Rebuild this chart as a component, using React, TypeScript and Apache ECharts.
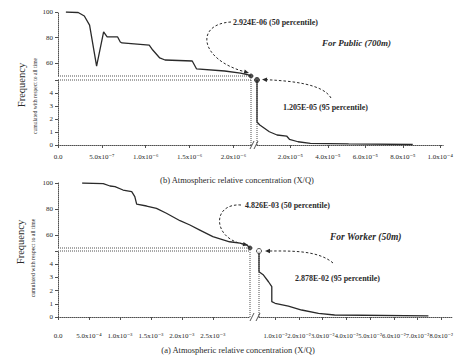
import React, { useEffect, useRef } from "react";
import * as echarts from "echarts";

// ---------- (b) For Public (700m) ----------
const publicUpper: [number, number][] = [
  [0.09e-6, 100], [0.23e-6, 99.6], [0.3e-6, 96.9], [0.36e-6, 89.8], [0.44e-6, 57.8],
  [0.52e-6, 84.4], [0.56e-6, 80.5], [0.68e-6, 80.5], [0.71e-6, 76.6], [0.73e-6, 75.8],
  [1.04e-6, 74.2], [1.08e-6, 70.3], [1.16e-6, 64.1], [1.22e-6, 62.5], [1.53e-6, 61.7],
  [1.58e-6, 55.5], [1.9e-6, 53.9], [2.08e-6, 52.3], [2.17e-6, 50.8], [2.2e-6, 50],
];
const publicLower: [number, number][] = [
  [2.2e-6, 5], [2.2e-6, 1.77], [0.37e-5, 1.54], [0.88e-5, 1.02], [1.29e-5, 0.77],
  [1.8e-5, 0.69], [1.95e-5, 0.44], [2.41e-5, 0.25], [3.07e-5, 0.13], [5.11e-5, 0.08],
  [8.53e-5, 0.04],
];
const publicP50: [number, number] = [2.2e-6, 50];
const publicP95: [number, number] = [2.2e-6, 5];
const publicLeftTicks = [0, 5e-7, 1e-6, 1.5e-6, 2e-6];
const publicLeftLabels = ["0.0", "5.0x10⁻⁷", "1.0x10⁻⁶", "1.5x10⁻⁶", "2.0x10⁻⁶"];
const publicRightTicks = [2e-5, 4e-5, 6e-5, 8e-5, 1e-4];
const publicRightLabels = ["2.0x10⁻⁵", "4.0x10⁻⁵", "6.0x10⁻⁵", "8.0x10⁻⁵", "1.0x10⁻⁴"];
const publicRightMax = 1.0156e-4;

// ---------- (a) For Worker (50m) ----------
const workerUpper: [number, number][] = [
  [0.39e-3, 100], [0.73e-3, 99.5], [0.84e-3, 97.7], [0.92e-3, 97.2], [1.05e-3, 94.6],
  [1.19e-3, 93.3], [1.24e-3, 89.5], [1.27e-3, 83.8], [1.43e-3, 82.3], [1.59e-3, 80.5],
  [1.75e-3, 76.7], [1.97e-3, 71.0], [2.13e-3, 67.7], [2.29e-3, 63.8], [2.5e-3, 58.7],
  [2.77e-3, 54.8], [2.94e-3, 53.8], [3.05e-3, 52.3], [3.1e-3, 50],
];
const workerLower: [number, number][] = [
  [3.1e-3, 5], [3.1e-3, 3.43], [0.5e-2, 3.18], [0.71e-2, 2.67], [0.85e-2, 2.3],
  [0.85e-2, 1.16], [0.99e-2, 1.04], [1.55e-2, 0.83], [2.11e-2, 0.53], [2.82e-2, 0.28],
  [3.5e-2, 0.15], [7.46e-2, 0.08],
];
const workerP50: [number, number] = [3.1e-3, 50];
const workerP95: [number, number] = [3.1e-3, 5];
const workerLeftTicks = [0, 5e-4, 1e-3, 1.5e-3, 2e-3, 2.5e-3];
const workerLeftLabels = ["0.0", "5.0x10⁻⁴", "1.0x10⁻³", "1.5x10⁻³", "2.0x10⁻³", "2.5x10⁻³"];
const workerRightTicks = [0.01, 0.02, 0.03, 0.04, 0.05, 0.06, 0.07, 0.08];
const workerRightLabels = ["1.0x10⁻²", "2.0x10⁻²", "3.0x10⁻²", "4.0x10⁻²", "5.0x10⁻²", "6.0x10⁻²", "7.0x10⁻²", "8.0x10⁻²"];
const workerRightMax = 0.0845;

// Frequency axis
const freqUpperTicks = [60, 80, 100];
const freqLowerTicks = [0, 1, 2, 3, 4];
const freqLowerTickMarks = [0, 1, 2, 3, 4, 5];

const FONT = "'Liberation Serif', 'DejaVu Serif', serif";
const INK = "#2a2a2a";
const AXIS = "#505050";

function labeler(ticks: number[], labels: string[]) {
  return (v: number) => {
    for (let i = 0; i < ticks.length; i++) {
      if (Math.abs(ticks[i] - v) <= Math.abs(ticks[i]) * 1e-6 + 1e-15) return labels[i];
    }
    return "";
  };
}

interface Layout {
  left: number; leftWidth: number; rightLeft: number; rightWidth: number;
  upperTop: number; upperHeight: number; lowerTop: number; lowerHeight: number;
  labelMargin: number; leftFont: number; rightFont: number;
}
interface Panel {
  upper: [number, number][]; lower: [number, number][];
  p50: [number, number]; p95: [number, number];
  leftTicks: number[]; leftLabels: string[];
  rightTicks: number[]; rightLabels: string[];
  rightMax: number; openP95: boolean; layout: Layout;
}

const publicPanel: Panel = {
  upper: publicUpper, lower: publicLower, p50: publicP50, p95: publicP95,
  leftTicks: publicLeftTicks, leftLabels: publicLeftLabels,
  rightTicks: publicRightTicks, rightLabels: publicRightLabels,
  rightMax: publicRightMax, openP95: false,
  layout: { left: 58, leftWidth: 193, rightLeft: 257, rightWidth: 195, upperTop: 12, upperHeight: 64, lowerTop: 80, lowerHeight: 65, labelMargin: 8, leftFont: 7, rightFont: 7 },
};
const workerPanel: Panel = {
  upper: workerUpper, lower: workerLower, p50: workerP50, p95: workerP95,
  leftTicks: workerLeftTicks, leftLabels: workerLeftLabels,
  rightTicks: workerRightTicks, rightLabels: workerRightLabels,
  rightMax: workerRightMax, openP95: true,
  layout: { left: 58, leftWidth: 192, rightLeft: 259, rightWidth: 193, upperTop: 183, upperHeight: 65, lowerTop: 251, lowerHeight: 66, labelMargin: 15, leftFont: 7, rightFont: 6.6 },
};

const axisLineStyle = { show: true, onZero: false, lineStyle: { color: AXIS, width: 1, type: "dotted" as const } };

function buildPanel(p: Panel, gi: number) {
  const L = p.layout;
  const B = p.p50[0];
  const grid = [
    { left: L.left, top: L.upperTop, width: L.leftWidth, height: L.upperHeight },
    { left: L.left, top: L.lowerTop, width: L.leftWidth, height: L.lowerHeight },
    { left: L.rightLeft, top: L.lowerTop, width: L.rightWidth, height: L.lowerHeight },
  ];
  const xLabel = (ticks: number[], labels: string[], size: number) => ({
    customValues: ticks, formatter: labeler(ticks, labels), color: INK, fontFamily: FONT,
    fontSize: size, margin: L.labelMargin,
  });
  const xAxis = [
    { gridIndex: gi, type: "value", min: 0, max: B, show: false },
    {
      gridIndex: gi + 1, type: "value", min: 0, max: B, axisLine: axisLineStyle,
      axisTick: { customValues: p.leftTicks, length: 3, lineStyle: { color: AXIS } },
      axisLabel: xLabel(p.leftTicks, p.leftLabels, L.leftFont), splitLine: { show: false },
    },
    {
      gridIndex: gi + 2, type: "value", min: B, max: p.rightMax, axisLine: axisLineStyle,
      axisTick: { customValues: p.rightTicks, length: 3, lineStyle: { color: AXIS } },
      axisLabel: xLabel(p.rightTicks, p.rightLabels, L.rightFont), splitLine: { show: false },
    },
  ];
  const yLabel = (ticks: number[]) => ({
    customValues: ticks, formatter: labeler(ticks, ticks.map(String)), color: INK,
    fontFamily: FONT, fontSize: 7, margin: 5,
  });
  const yAxis = [
    {
      gridIndex: gi, type: "value", min: 50, max: 100, axisLine: axisLineStyle,
      axisTick: { customValues: freqUpperTicks, length: 3, lineStyle: { color: AXIS } },
      axisLabel: yLabel(freqUpperTicks), splitLine: { show: false },
    },
    {
      gridIndex: gi + 1, type: "value", min: 0, max: 5, axisLine: axisLineStyle,
      axisTick: { customValues: freqLowerTickMarks, length: 3, lineStyle: { color: AXIS } },
      axisLabel: yLabel(freqLowerTicks), splitLine: { show: false },
    },
    { gridIndex: gi + 2, type: "value", min: 0, max: 5, show: false },
  ];
  const curve = (data: [number, number][], k: number) => ({
    type: "line", xAxisIndex: gi + k, yAxisIndex: gi + k, data, symbol: "none",
    lineStyle: { color: INK, width: 1.3 }, silent: true, clip: true, z: 3,
  });
  const refl = (data: [number, number][], k: number) => ({
    type: "line", xAxisIndex: gi + k, yAxisIndex: gi + k, data, symbol: "none",
    lineStyle: { color: AXIS, width: 1, type: "dotted" }, silent: true, clip: false, z: 2,
  });
  const pt = (d: [number, number], k: number, open: boolean, size: number) => ({
    type: "scatter", xAxisIndex: gi + k, yAxisIndex: gi + k, data: [d], symbol: "circle",
    symbolSize: size, clip: false, silent: true, z: 6,
    itemStyle: { color: open ? "#ffffff" : INK, borderColor: INK, borderWidth: 1 },
  });
  const series = [
    curve(p.upper, 0),
    curve(p.lower, 2),
    refl([[0, p.p50[1]], p.p50], 0),
    refl([[0, p.p95[1]], [B, p.p95[1]]], 1),
    refl([[B, 0], [B, p.p95[1]]], 1),
    refl([[B, 0], p.p95], 2),
    pt(p.p50, 0, false, 4),
    pt(p.p95, 2, p.openP95, 5),
  ];
  return { grid, xAxis, yAxis, series };
}

function txt(text: string, x: number, y: number, o: { size?: number; bold?: boolean; italic?: boolean; align?: string; rot?: number } = {}) {
  const align = o.align || "left";
  return {
    type: "text", x, y, rotation: o.rot || 0, silent: true, z: 10,
    style: {
      text, fill: INK, fontFamily: FONT, fontSize: o.size || 8,
      fontWeight: o.bold ? "bold" : "normal", fontStyle: o.italic ? "italic" : "normal",
      align, verticalAlign: "middle", textAlign: align, textVerticalAlign: "middle",
    },
  };
}

function arrow(x1: number, y1: number, c1x: number, c1y: number, c2x: number, c2y: number, x2: number, y2: number) {
  const ang = Math.atan2(y2 - c2y, x2 - c2x);
  const len = 5, w = 2.2;
  const bx = x2 - len * Math.cos(ang), by = y2 - len * Math.sin(ang);
  const nx = -Math.sin(ang) * w, ny = Math.cos(ang) * w;
  return [
    {
      type: "bezierCurve", silent: true, z: 9,
      shape: { x1, y1, cpx1: c1x, cpy1: c1y, cpx2: c2x, cpy2: c2y, x2: bx, y2: by },
      style: { stroke: INK, lineWidth: 1, lineDash: [2.5, 2], fill: "none" },
    },
    {
      type: "polygon", silent: true, z: 9,
      shape: { points: [[x2, y2], [bx + nx, by + ny], [bx - nx, by - ny]] },
      style: { fill: INK },
    },
  ];
}

function breakMarks(xl: number, xr: number, y: number) {
  return [
    { type: "line", silent: true, z: 9, shape: { x1: xl - 2, y1: y + 4, x2: xl + 2, y2: y - 4 }, style: { stroke: INK, lineWidth: 0.8 } },
    { type: "line", silent: true, z: 9, shape: { x1: xr - 2, y1: y + 4, x2: xr + 2, y2: y - 4 }, style: { stroke: INK, lineWidth: 0.8 } },
  ];
}

export default function App() {
  const ref = useRef<HTMLDivElement>(null);
  useEffect(() => {
    document.body.style.margin = "0";
    const el = ref.current!;
    const chart = echarts.init(el, undefined, { renderer: "svg" });
    const top = buildPanel(publicPanel, 0);
    const bot = buildPanel(workerPanel, 3);
    chart.setOption({
      animation: false,
      backgroundColor: "#ffffff",
      grid: [...top.grid, ...bot.grid],
      xAxis: [...top.xAxis, ...bot.xAxis],
      yAxis: [...top.yAxis, ...bot.yAxis],
      series: [...top.series, ...bot.series],
    });
    const px = (d: [number, number], i: number) =>
      chart.convertToPixel({ xAxisIndex: i, yAxisIndex: i } as any, d) as unknown as number[];

    const tP50 = px(publicP50, 0);
    const tP95 = px(publicP95, 2);
    const tBL = px([publicP50[0], 0], 1);
    const tBR = px([publicP95[0], 0], 2);
    const bP50 = px(workerP50, 3);
    const bP95 = px(workerP95, 5);
    const bBL = px([workerP50[0], 0], 4);
    const bBR = px([workerP95[0], 0], 5);

    const t50 = { x: 233, y: 22 };
    const t95 = { x: 283, y: 107 };
    const w50 = { x: 245, y: 205 };
    const w95 = { x: 295, y: 278 };

    const graphic: any[] = [
      // axis titles
      txt("Frequency", 21, 85, { size: 10.5, rot: Math.PI / 2, align: "center" }),
      txt("cumulated with respect to all time", 35, 96, { size: 5.6, rot: Math.PI / 2, align: "center" }),
      txt("Frequency", 20, 242, { size: 10.5, rot: Math.PI / 2, align: "center" }),
      txt("cumulated with respect to all time", 33, 258, { size: 5.8, rot: Math.PI / 2, align: "center" }),
      // captions
      txt("(b) Atmospheric relative concentration (X/Q)", 237, 180, { size: 8.5, align: "center" }),
      txt("(a) Atmospheric relative concentration (X/Q)", 238, 350, { size: 8.5, align: "center" }),
      // annotations
      txt("2.924E-06 (50 percentile)", t50.x, t50.y, { size: 8, bold: true }),
      txt("For Public (700m)", 322, 43, { size: 9, bold: true, italic: true }),
      txt("1.205E-05 (95 percentile)", t95.x, t95.y, { size: 8, bold: true }),
      txt("4.826E-03 (50 percentile)", w50.x, w50.y, { size: 8, bold: true }),
      txt("For Worker (50m)", 330, 237, { size: 9.5, bold: true, italic: true }),
      txt("2.878E-02 (95 percentile)", w95.x, w95.y, { size: 8, bold: true }),
      ...arrow(t50.x - 2, t50.y, t50.x - 38, t50.y + 2, tP50[0] - 52, tP50[1] - 17, tP50[0] - 2, tP50[1] - 3),
      ...arrow(t95.x + 48, t95.y - 9, t95.x + 40, t95.y - 23, tP95[0] + 35, tP95[1] + 1, tP95[0] + 5, tP95[1] - 0.5),
      ...arrow(w50.x - 4, w50.y, w50.x - 33, w50.y - 2, bP50[0] - 38, bP50[1] - 10, bP50[0] - 2, bP50[1] - 3),
      ...arrow(w95.x + 38, w95.y - 15, w95.x + 23, w95.y - 28, bP95[0] + 31, bP95[1], bP95[0] + 6, bP95[1]),
      ...breakMarks(tBL[0] + 1, tBR[0] - 1, tBL[1]),
      ...breakMarks(bBL[0] + 2, bBR[0] - 1, bBL[1]),
    ];
    chart.setOption({ graphic });
    return () => chart.dispose();
  }, []);
  return <div ref={ref} style={{ width: 456, height: 360 }} />;
}
